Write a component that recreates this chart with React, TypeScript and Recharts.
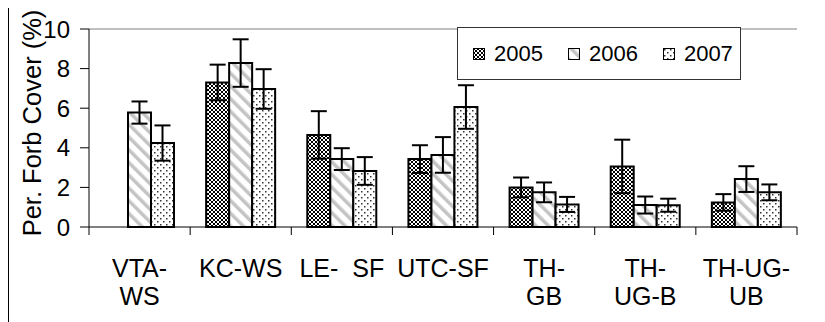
import React from 'react';
import { BarChart, Bar, XAxis, YAxis, ErrorBar, Legend, ReferenceLine } from 'recharts';

const sites = ['VTA-\nWS', 'KC-WS', 'LE-  SF', 'UTC-SF', 'TH-\nGB', 'TH-\nUG-B', 'TH-UG-\nUB'];
const years = ['2005', '2006', '2007'];

// mean forb cover (%) and the error bar half-length, per site
const cover2005 = [null, 7.3, 4.65, 3.43, 2.0, 3.06, 1.24];
const err2005 = [null, 0.9, 1.2, 0.7, 0.5, 1.35, 0.42];
const cover2006 = [5.78, 8.28, 3.43, 3.64, 1.75, 1.11, 2.42];
const err2006 = [0.56, 1.2, 0.55, 0.9, 0.5, 0.43, 0.65];
const cover2007 = [4.24, 6.97, 2.83, 6.06, 1.14, 1.1, 1.75];
const err2007 = [0.89, 1.0, 0.7, 1.1, 0.38, 0.33, 0.4];

const yTicks = [0, 2, 4, 6, 8, 10];

const data = sites.map((site, i) => ({
  site,
  y2005: cover2005[i],
  e2005: err2005[i],
  y2006: cover2006[i],
  e2006: err2006[i],
  y2007: cover2007[i],
  e2007: err2007[i],
}));

const W = 816;
const H = 315;
const margin = { top: 22, right: 28, bottom: 0, left: 0 };
const Y_AXIS_W = 80;
const band = (W - margin.left - margin.right - Y_AXIS_W) / sites.length;
const font = '"Liberation Sans", Arial, sans-serif';

function SiteTick({ x, y, payload, index }: any) {
  const lines = String(payload.value).split('\n');
  return (
    <g>
      <line x1={x - band / 2} y1={y} x2={x - band / 2} y2={y + 8} stroke="#000" />
      {index === sites.length - 1 && (
        <line x1={x + band / 2} y1={y} x2={x + band / 2} y2={y + 8} stroke="#000" />
      )}
      <text
        x={x}
        y={y}
        textAnchor="middle"
        fontSize={25}
        fontFamily={font}
        fill="#000"
        style={{ whiteSpace: 'pre' }}
      >
        {lines.map((l, i) => (
          <tspan key={i} x={x} dy={i === 0 ? 50 : 28}>
            {l}
          </tspan>
        ))}
      </text>
    </g>
  );
}

function YearLegend() {
  return (
    <div
      style={{
        boxSizing: 'border-box',
        width: 284,
        height: 53,
        border: '1px solid #333',
        background: '#fff',
        display: 'flex',
        alignItems: 'center',
        paddingLeft: 15,
        fontFamily: font,
        fontSize: 22,
        color: '#000',
      }}
    >
      {years.map((yr) => (
        <div key={yr} style={{ display: 'flex', alignItems: 'center', marginRight: 25 }}>
          <svg width={12} height={12} style={{ marginRight: 9 }}>
            <rect x={0.5} y={0.5} width={11} height={11} fill={`url(#pat${yr})`} stroke="#000" />
          </svg>
          <span>{yr}</span>
        </div>
      ))}
    </div>
  );
}

function YLabel() {
  const cy = 116;
  return (
    <text
      x={32}
      y={cy}
      textAnchor="middle"
      fontSize={25.5}
      fontFamily={font}
      fill="#000"
      transform={`rotate(-90, 32, ${cy})`}
    >
      Per. Forb Cover (%)
    </text>
  );
}

export default function App() {
  return (
    <div
      style={{
        position: 'relative',
        top: -2,
        width: 817,
        height: 330,
        borderTop: '1px solid #000',
        borderLeft: '1px solid #000',
        boxSizing: 'border-box',
      }}
    >
      <style>{'html,body{overflow:hidden}'}</style>
      <BarChart width={W} height={H} data={data} margin={margin} barSize={23} barGap={0}>
        <defs>
          <pattern id="pat2005" width={4} height={4} patternUnits="userSpaceOnUse">
            <rect width={4} height={4} fill="#fff" />
            <rect width={2} height={2} fill="#000" />
            <rect x={2} y={2} width={2} height={2} fill="#000" />
          </pattern>
          <pattern id="pat2006" width={9} height={9} patternUnits="userSpaceOnUse" patternTransform="rotate(-45)">
            <rect width={9} height={9} fill="#fff" />
            <rect width={3.5} height={9} fill="#c4c4c4" />
          </pattern>
          <pattern id="pat2007" width={6} height={6} patternUnits="userSpaceOnUse">
            <rect width={6} height={6} fill="#fff" />
            <rect x={1} y={1} width={1.5} height={1.5} fill="#333" />
            <rect x={4} y={4} width={1.5} height={1.5} fill="#333" />
          </pattern>
        </defs>
        <XAxis
          dataKey="site"
          interval={0}
          tickLine={false}
          tickSize={0}
          tickMargin={0}
          height={H - 220}
          axisLine={{ stroke: '#000' }}
          tick={<SiteTick />}
        />
        <YAxis
          width={Y_AXIS_W}
          domain={[0, 10]}
          ticks={yTicks}
          interval={0}
          tickSize={9}
          tickMargin={10}
          axisLine={{ stroke: '#000' }}
          tickLine={{ stroke: '#000' }}
          tick={{ fill: '#000', fontSize: 24, fontFamily: font }}
          label={<YLabel />}
        />
        <YAxis
          yAxisId="frame"
          orientation="right"
          width={0}
          domain={[0, 10]}
          tick={false}
          tickLine={false}
          axisLine={{ stroke: '#808080' }}
        />
        <ReferenceLine y={10} stroke="#808080" />
        <Legend
          layout="horizontal"
          verticalAlign="middle"
          align="center"
          content={<YearLegend />}
          wrapperStyle={{ left: 448, top: 20, width: 284, height: 53 }}
        />
        <Bar dataKey="y2005" fill="url(#pat2005)" stroke="#000" strokeWidth={2} isAnimationActive={false}>
          <ErrorBar dataKey="e2005" direction="y" width={8} stroke="#000" strokeWidth={2} />
        </Bar>
        <Bar dataKey="y2006" fill="url(#pat2006)" stroke="#000" strokeWidth={2} isAnimationActive={false}>
          <ErrorBar dataKey="e2006" direction="y" width={8} stroke="#000" strokeWidth={2} />
        </Bar>
        <Bar dataKey="y2007" fill="url(#pat2007)" stroke="#000" strokeWidth={2} isAnimationActive={false}>
          <ErrorBar dataKey="e2007" direction="y" width={8} stroke="#000" strokeWidth={2} />
        </Bar>
      </BarChart>
    </div>
  );
}
